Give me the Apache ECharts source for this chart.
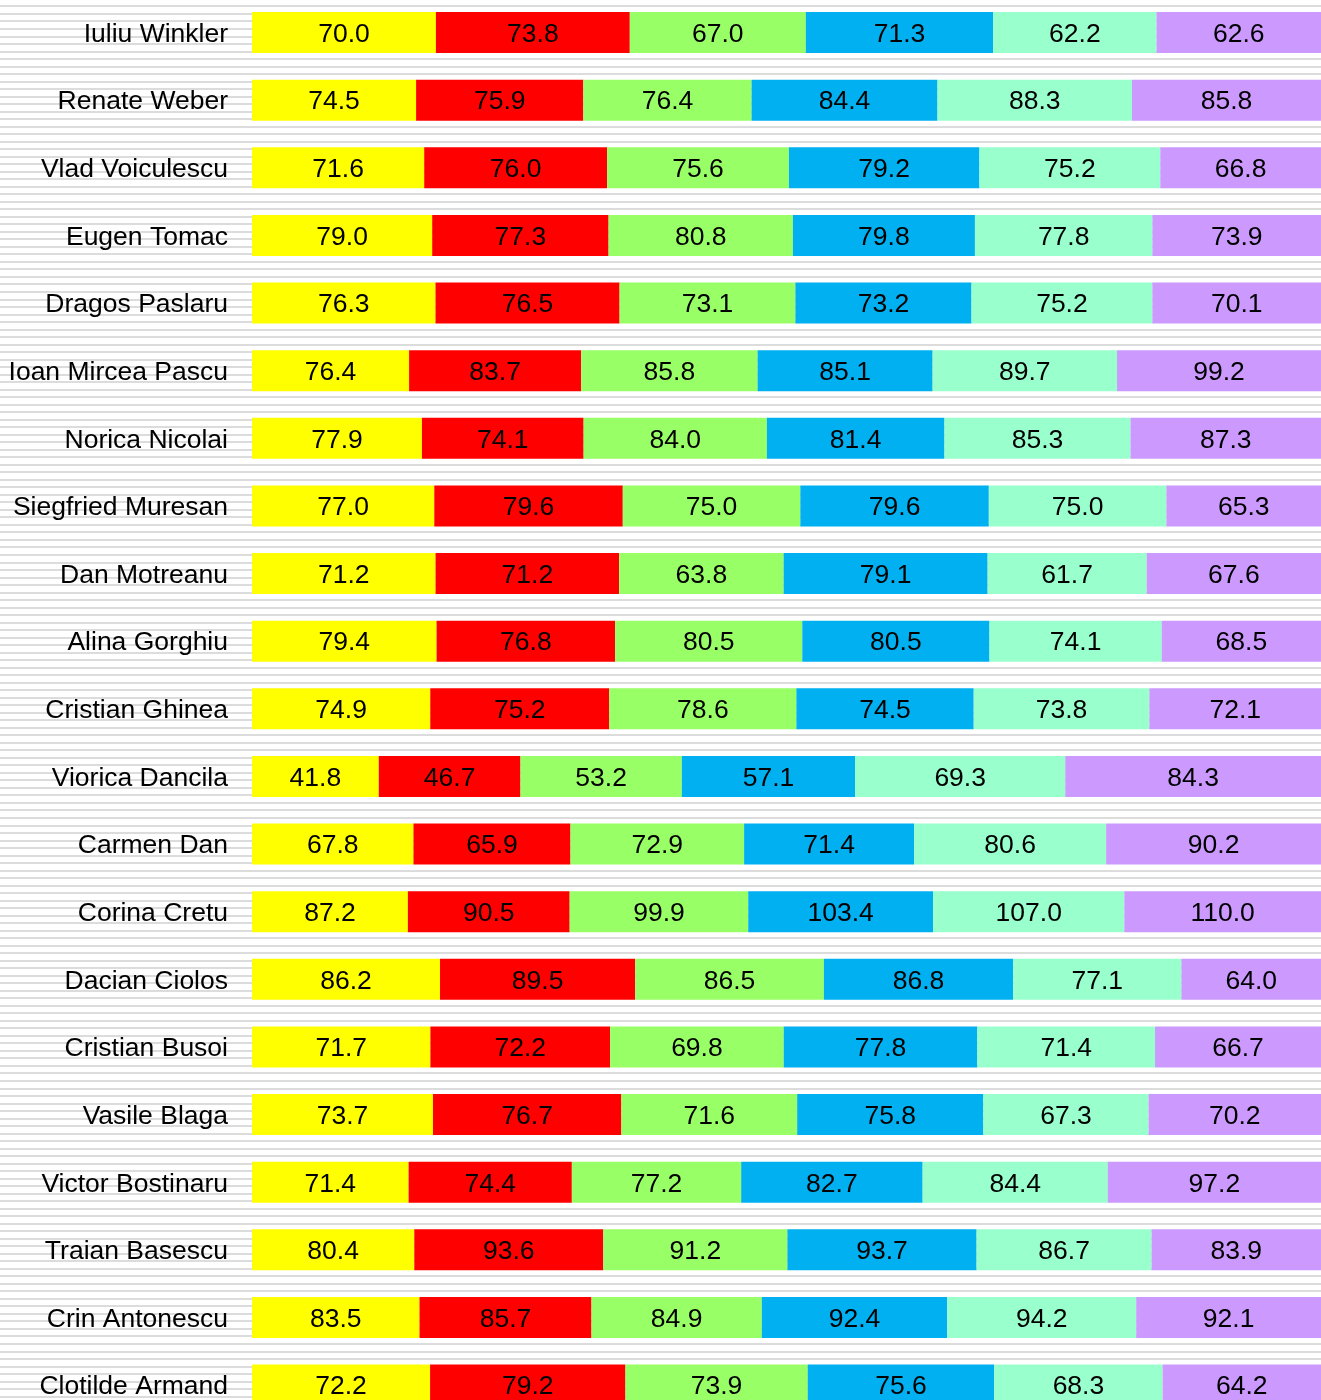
<!DOCTYPE html>
<html>
<head>
<meta charset="utf-8">
<script src="https://cdn.jsdelivr.net/npm/echarts@6/dist/echarts.min.js"></script>
<style>
    html, body {margin: 0; padding: 0; background: #fff;}
    #chart {width: 1321px; height: 1400px;}
</style>
</head>
<body>
<div id="chart"></div>
<script>
var names = ['Iuliu Winkler', 'Renate Weber', 'Vlad Voiculescu', 'Eugen Tomac', 'Dragos Paslaru',
    'Ioan Mircea Pascu', 'Norica Nicolai', 'Siegfried Muresan', 'Dan Motreanu', 'Alina Gorghiu',
    'Cristian Ghinea', 'Viorica Dancila', 'Carmen Dan', 'Corina Cretu', 'Dacian Ciolos',
    'Cristian Busoi', 'Vasile Blaga', 'Victor Bostinaru', 'Traian Basescu', 'Crin Antonescu',
    'Clotilde Armand'];

var s1 = [70.0, 74.5, 71.6, 79.0, 76.3, 76.4, 77.9, 77.0, 71.2, 79.4, 74.9, 41.8, 67.8, 87.2, 86.2, 71.7, 73.7, 71.4, 80.4, 83.5, 72.2];
var s2 = [73.8, 75.9, 76.0, 77.3, 76.5, 83.7, 74.1, 79.6, 71.2, 76.8, 75.2, 46.7, 65.9, 90.5, 89.5, 72.2, 76.7, 74.4, 93.6, 85.7, 79.2];
var s3 = [67.0, 76.4, 75.6, 80.8, 73.1, 85.8, 84.0, 75.0, 63.8, 80.5, 78.6, 53.2, 72.9, 99.9, 86.5, 69.8, 71.6, 77.2, 91.2, 84.9, 73.9];
var s4 = [71.3, 84.4, 79.2, 79.8, 73.2, 85.1, 81.4, 79.6, 79.1, 80.5, 74.5, 57.1, 71.4, 103.4, 86.8, 77.8, 75.8, 82.7, 93.7, 92.4, 75.6];
var s5 = [62.2, 88.3, 75.2, 77.8, 75.2, 89.7, 85.3, 75.0, 61.7, 74.1, 73.8, 69.3, 80.6, 107.0, 77.1, 71.4, 67.3, 84.4, 86.7, 94.2, 68.3];
var s6 = [62.6, 85.8, 66.8, 73.9, 70.1, 99.2, 87.3, 65.3, 67.6, 68.5, 72.1, 84.3, 90.2, 110.0, 64.0, 66.7, 70.2, 97.2, 83.9, 92.1, 64.2];

var seriesData = [s1, s2, s3, s4, s5, s6];
var colors = ['#ffff00', '#ff0000', '#99ff66', '#00b0f0', '#99ffcc', '#cc99ff'];

// each row is stacked to 100%
var totals = names.map(function (n, i) {
    var sum = 0;
    for (var k = 0; k < seriesData.length; k++) {
        sum += seriesData[k][i];
    }
    return sum;
});

var font = "'Liberation Sans', Arial, sans-serif";

var series = seriesData.map(function (arr, k) {
    return {
        name: 'Serie ' + (k + 1),
        type: 'bar',
        stack: 'total',
        barWidth: 41,
        xAxisIndex: 0,
        yAxisIndex: 0,
        itemStyle: {color: colors[k]},
        label: {
            show: true,
            position: 'inside',
            offset: [0, 2],
            color: '#000',
            fontSize: 26.5,
            fontFamily: font,
            formatter: function (p) {
                return arr[p.dataIndex].toFixed(1);
            }
        },
        data: arr.map(function (v, i) {
            return v / totals[i] * 100;
        })
    };
});

var chart = echarts.init(document.getElementById('chart'));
chart.setOption({
    backgroundColor: '#fff',
    animation: false,
    grid: [
        {left: 252, right: 0, top: -1.3, height: 1420.2, outerBoundsMode: 'none', containLabel: false},
        // full width grid, only for the background stripes
        {left: 0, right: 0, top: -1.3, height: 1420.2, outerBoundsMode: 'none', containLabel: false}
    ],
    xAxis: [
        {type: 'value', gridIndex: 0, min: 0, max: 100, show: false},
        {type: 'value', gridIndex: 1, min: 0, max: 100, show: false}
    ],
    yAxis: [
        {
            type: 'category',
            gridIndex: 0,
            data: names,
            inverse: true,
            z: 5,
            axisLine: {show: false},
            axisTick: {show: false},
            splitLine: {show: false},
            axisLabel: {
                margin: 24,
                formatter: function (v) {
                    return '{n|' + v + '}';
                },
                rich: {
                    n: {
                        color: '#000',
                        fontSize: 26.5,
                        fontFamily: font,
                        padding: [4, 0, 0, 0]
                    }
                }
            }
        },
        {
            // background stripes, 9 per row
            type: 'value',
            gridIndex: 1,
            min: 0,
            max: 189,
            interval: 1,
            z: 0,
            axisLine: {show: false},
            axisTick: {show: false},
            axisLabel: {show: false},
            splitLine: {show: true, lineStyle: {color: '#dcdcdc', width: 2}}
        }
    ],
    series: series
});
</script>
</body>
</html>
